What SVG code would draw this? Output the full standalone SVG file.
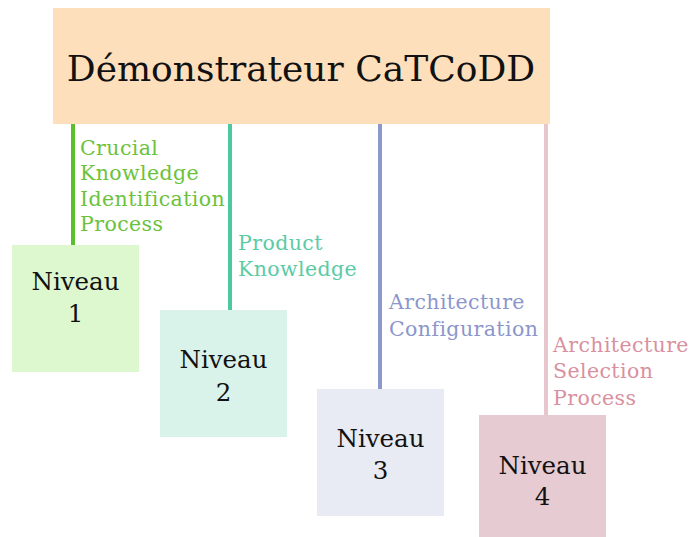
<svg xmlns="http://www.w3.org/2000/svg" width="689" height="537" viewBox="0 0 689 537">
<style>
.t{font-family:"DejaVu Serif","Liberation Serif",serif;}
.title{font-size:36px;fill:#111;}
.nv{font-size:24.5px;fill:#111;text-anchor:middle;}
.lb{font-size:20.5px;letter-spacing:0.4px;}
.ln{stroke-width:4;fill:none;}
</style>
<rect width="689" height="537" fill="#fff"/>
<g id="demonstrateur">
<rect x="53" y="8" width="497" height="116" fill="#FDDFBC"/>
<text class="t title" x="301" y="81" text-anchor="middle">Démonstrateur CaTCoDD</text>
</g>
<g id="connectors">
<line class="ln" x1="73" y1="124" x2="73" y2="245" stroke="#5BBE2C"/>
<text class="t lb" fill="#6CC23C"><tspan x="80" y="155">Crucial</tspan><tspan x="80" y="180">Knowledge</tspan><tspan x="80" y="206">Identification</tspan><tspan x="80" y="231">Process</tspan></text>
<line class="ln" x1="230" y1="124" x2="230" y2="310" stroke="#4DC9A0"/>
<text class="t lb" fill="#5BCBA6"><tspan x="238" y="250">Product</tspan><tspan x="238" y="276">Knowledge</tspan></text>
<line class="ln" x1="380" y1="124" x2="380" y2="389" stroke="#8C98CA"/>
<text class="t lb" fill="#8B96CC"><tspan x="389" y="309">Architecture</tspan><tspan x="389" y="336">Configuration</tspan></text>
<line class="ln" x1="546" y1="124" x2="546" y2="415" stroke="#E8C6CE"/>
<text class="t lb" fill="#D9909F"><tspan x="553" y="352">Architecture</tspan><tspan x="553" y="378">Selection</tspan><tspan x="553" y="405">Process</tspan></text>
</g>
<g id="niveau1">
<rect x="12" y="245" width="127" height="127" fill="#DDF7CF"/>
<text class="t nv" x="75.5" y="290">Niveau</text>
<text class="t nv" x="75.5" y="322">1</text>
</g>
<g id="niveau2">
<rect x="160" y="310" width="127" height="127" fill="#DAF3EA"/>
<text class="t nv" x="223.5" y="368">Niveau</text>
<text class="t nv" x="223.5" y="401">2</text>
</g>
<g id="niveau3">
<rect x="317" y="389" width="127" height="127" fill="#E8EAF4"/>
<text class="t nv" x="380.5" y="447">Niveau</text>
<text class="t nv" x="380.5" y="479">3</text>
</g>
<g id="niveau4">
<rect x="479" y="415" width="127" height="122" fill="#E7CBD2"/>
<text class="t nv" x="542.5" y="474">Niveau</text>
<text class="t nv" x="542.5" y="505">4</text>
</g>
</svg>
